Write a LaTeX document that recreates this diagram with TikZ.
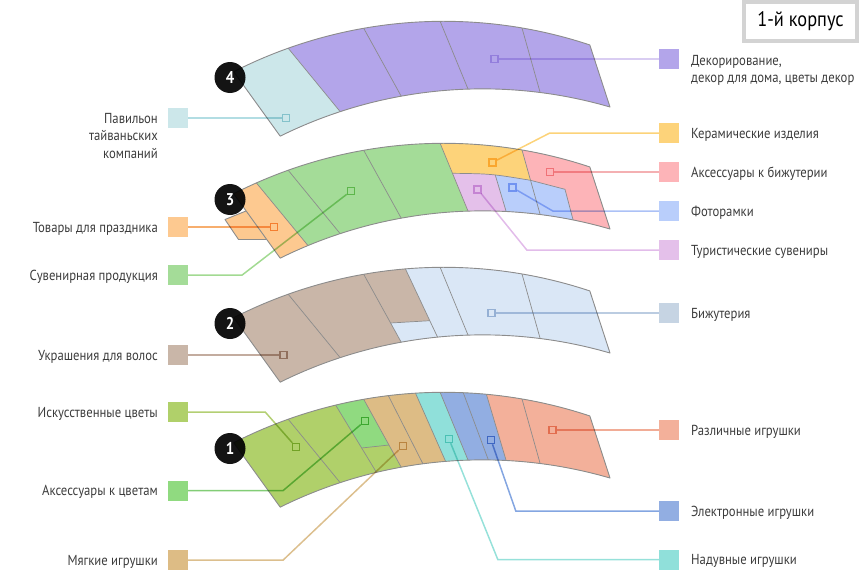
\documentclass[tikz,border=0pt]{standalone}
\usepackage{fontspec}
\setmainfont{PT Sans}[FakeStretch=0.875]
\usetikzlibrary{calc}

\definecolor{ink}{HTML}{3C3C3C}
\definecolor{edge}{HTML}{8C8C8C}
\definecolor{frame}{HTML}{D3D3D3}
% fills
\definecolor{cPav}{HTML}{CCE7EA}
\definecolor{cDec}{HTML}{B3A5EA}
\definecolor{cCer}{HTML}{FDD37A}
\definecolor{cAcc}{HTML}{FDB4B8}
\definecolor{cFoto}{HTML}{B9CEFB}
\definecolor{cTur}{HTML}{E4C0EA}
\definecolor{cHol}{HTML}{FDC990}
\definecolor{cSuv}{HTML}{A4DC98}
\definecolor{cHair}{HTML}{C9B6A8}
\definecolor{cBij}{HTML}{DAE7F6}
\definecolor{cBijKey}{HTML}{C6D4E3}
\definecolor{cArt}{HTML}{B0D06A}
\definecolor{cFlacc}{HTML}{90DA80}
\definecolor{cSoft}{HTML}{DDBC85}
\definecolor{cInf}{HTML}{90E0DA}
\definecolor{cEl}{HTML}{92AEE2}
\definecolor{cVar}{HTML}{F3B09A}
% leader lines
\definecolor{lPav}{HTML}{A5D7DE}
\definecolor{lDec}{HTML}{D2C4F0}
\definecolor{lCer}{HTML}{FCCB62}
\definecolor{lAcc}{HTML}{F2A2A5}
\definecolor{lFoto}{HTML}{9DB6F5}
\definecolor{lTur}{HTML}{DDB0E6}
\definecolor{lHol}{HTML}{F6A055}
\definecolor{lSuv}{HTML}{92D47F}
\definecolor{lHair}{HTML}{B89E8E}
\definecolor{lBij}{HTML}{AFC3DC}
\definecolor{lArt}{HTML}{A6C75A}
\definecolor{lFlacc}{HTML}{6CC45E}
\definecolor{lSoft}{HTML}{D6B47A}
\definecolor{lInf}{HTML}{84DCD3}
\definecolor{lEl}{HTML}{6E96DC}
\definecolor{lVar}{HTML}{EE9E84}

\tikzset{
  band/.style={draw=edge, line width=0.9pt, line join=round},
  split/.style={draw=edge, line width=0.7pt},
  legkey/.style={fill=#1, minimum size=20pt, inner sep=0pt},
  lead/.style={draw=#1, line width=1.5pt, opacity=0.85, blend mode=multiply},
  spot/.style={draw=#1, line width=1.5pt, minimum size=7pt, inner sep=0pt, blend mode=multiply},
  num/.style={circle, fill=black, fill opacity=0.92, text opacity=1, text=white, minimum size=31pt, inner sep=0pt, font=\fontsize{17}{17}\selectfont\bfseries},
  txtL/.style={anchor=base east, align=right, inner sep=0pt, text=ink, font=\fontsize{14.5}{17.5}\selectfont},
  txtR/.style={anchor=base west, align=left, inner sep=0pt, text=ink, font=\fontsize{14.5}{17.5}\selectfont}
}

\newcommand{\bandpath}{(233.7,442.7) arc[start angle=-117, end angle=-71.6, radius=462.7] -- (610,478) arc[start angle=-73.8, end angle=-116.3, radius=456.8] -- cycle}
\newcommand{\segfill}[5]{\fill[#1] ($(#2)!-1!(#3)$) -- ($(#2)!2!(#3)$) -- ($(#4)!2!(#5)$) -- ($(#4)!-1!(#5)$) -- cycle;}
\newcommand{\divline}[2]{\draw[split] ($(#1)!-1!(#2)$) -- ($(#1)!2!(#2)$);}

\begin{document}
\begin{tikzpicture}[x=1pt, y=-1pt]
\useasboundingbox (0,0) rectangle (860,570);

% floor 4
\begin{scope}[shift={(0,-371)}]
  \begin{scope}
    \clip \bandpath;
    \fill[cDec] (200,380) rectangle (650,520);
    \segfill{cPav}{150,400}{170,500}{288,419}{338,480}
    \divline{288,419}{338,480}
    \divline{363,398}{400,465}
    \divline{440,392}{468,460}
    \divline{522,399}{540,463}
  \end{scope}
  \draw[band] \bandpath;
  \node[num] (n4) at (230,448.5) {4};
\end{scope}

% floor 3
\begin{scope}[shift={(0,-249)}]
  \fill[cHol] (246,460) -- (225,468.5) -- (238.5,488.5) -- (266.5,488.5) -- cycle;
  \draw[band] (246,460) -- (225,468.5) -- (238.5,488.5) -- (266.5,488.5);
  \begin{scope}
    \clip \bandpath;
    \fill[cSuv] (200,380) rectangle (650,520);
    \segfill{cHol}{150,400}{170,500}{256.7,432.3}{306.7,493}
    \segfill{cCer}{440,392}{468,460}{522,399}{540,463}
    \segfill{cAcc}{522,399}{540,463}{640,400}{660,470}
    \begin{scope}
      \clip (482,494) -- (452.5,422.3) .. controls (491,422.8) .. (530.5,429.3) -- (565,438.3) -- (576,480) -- cycle;
      \fill[cTur] (400,380) rectangle (650,520);
      \segfill{cFoto}{486,393}{506,460}{640,400}{660,470}
      \divline{486,393}{506,460}
    \end{scope}
    \divline{256.7,432.3}{306.7,493}
    \divline{288,419}{338,480}
    \divline{363,398}{400,465}
    \divline{440,392}{468,460}
    \divline{522,399}{540,463}
    \draw[split] (452.5,422.3) .. controls (491,422.8) .. (530.5,429.3) -- (565,438.3) -- (576,480);
  \end{scope}
  \draw[band] \bandpath;
  \node[num] (n3) at (230,448.5) {3};
\end{scope}

% floor 2
\begin{scope}[shift={(0,-125)}]
  \begin{scope}
    \clip \bandpath;
    \fill[cHair] (200,380) rectangle (650,520);
    \segfill{cBij}{405,393}{437,461}{640,400}{660,470}
    \fill[cBij] (390.6,448) -- (429.8,445.7) -- ($(405,393)!2!(437,461)$) -- ($(363,398)!2!(400,465)$) -- cycle;
    \divline{288,419}{338,480}
    \divline{363,398}{400,465}
    \divline{405,393}{437,461}
    \divline{440,392}{468,460}
    \divline{522,399}{540,463}
    \draw[split] (390.6,448) -- (429.8,445.7);
  \end{scope}
  \draw[band] \bandpath;
  \node[num] (n2) at (230,448.5) {2};
\end{scope}

% floor 1
\begin{scope}
  \begin{scope}
    \clip \bandpath;
    \fill[cArt] (200,380) rectangle (650,520);
    \fill[cFlacc] ($(335,404)!-1!(375,470)$) -- (361.7,448) -- (389,445) -- ($(363,398)!-1!(400,465)$) -- cycle;
    \segfill{cSoft}{363,398}{400,465}{415,392}{445,460}
    \segfill{cInf}{415,392}{445,460}{440,392}{468,460}
    \segfill{cEl}{440,392}{468,460}{486,393}{506,460}
    \segfill{cVar}{486,393}{506,460}{640,400}{660,470}
    \divline{288,419}{338,480}
    \divline{335,404}{375,470}
    \divline{363,398}{400,465}
    \divline{388,395}{422,462}
    \divline{415,392}{445,460}
    \divline{440,392}{468,460}
    \divline{463,392}{488,459}
    \divline{486,393}{506,460}
    \divline{522,399}{540,463}
    \draw[split] (361.7,448) -- (389,445);
  \end{scope}
  \draw[band] \bandpath;
  \node[num] (n1) at (230,448.5) {1};
\end{scope}

% legend, left
\node[legkey=cPav] (k-pav) at (178,118) {};
\node[txtL] (t-pav) at (158,158) {Павильон\\тайваньских\\компаний};
\node[legkey=cHol] (k-hol) at (178,227) {};
\node[txtL] (t-hol) at (158,232) {Товары для праздника};
\node[legkey=cSuv] (k-suv) at (178,275) {};
\node[txtL] (t-suv) at (158,280) {Сувенирная продукция};
\node[legkey=cHair] (k-hair) at (178,355) {};
\node[txtL] (t-hair) at (158,360) {Украшения для волос};
\node[legkey=cArt] (k-art) at (178,412) {};
\node[txtL] (t-art) at (158,417) {Искусственные цветы};
\node[legkey=cFlacc] (k-flacc) at (178,490.5) {};
\node[txtL] (t-flacc) at (158,495.5) {Аксессуары к цветам};
\node[legkey=cSoft] (k-soft) at (178,560) {};
\node[txtL] (t-soft) at (158,565) {Мягкие игрушки};

% legend, right
\node[legkey=cDec] (k-dec) at (669,59) {};
\node[txtR] (t-dec) at (691,82.5) {Декорирование,\\декор для дома, цветы декор};
\node[legkey=cCer] (k-cer) at (669,133) {};
\node[txtR] (t-cer) at (691,138) {Керамические изделия};
\node[legkey=cAcc] (k-acc) at (669,172) {};
\node[txtR] (t-acc) at (691,177) {Аксессуары к бижутерии};
\node[legkey=cFoto] (k-foto) at (669,211) {};
\node[txtR] (t-foto) at (691,216) {Фоторамки};
\node[legkey=cTur] (k-tur) at (669,250) {};
\node[txtR] (t-tur) at (691,255) {Туристические сувениры};
\node[legkey=cBijKey] (k-bij) at (669,313) {};
\node[txtR] (t-bij) at (691,318) {Бижутерия};
\node[legkey=cVar] (k-var) at (669,430) {};
\node[txtR] (t-var) at (691,435) {Различные игрушки};
\node[legkey=cEl] (k-el) at (669,511) {};
\node[txtR] (t-el) at (691,516) {Электронные игрушки};
\node[legkey=cInf] (k-inf) at (669,559.5) {};
\node[txtR] (t-inf) at (691,564.5) {Надувные игрушки};

% markers
\node[spot=lPav] (m-pav) at (286,118) {};
\node[spot=lDec] (m-dec) at (494.3,59) {};
\node[spot=lCer] (m-cer) at (492.7,162.3) {};
\node[spot=lAcc] (m-acc) at (550,172) {};
\node[spot=lFoto] (m-foto) at (512.7,187.7) {};
\node[spot=lTur] (m-tur) at (477.7,189.3) {};
\node[spot=lHol] (m-hol) at (274,227) {};
\node[spot=lSuv] (m-suv) at (351,191) {};
\node[spot=lHair] (m-hair) at (283.3,355) {};
\node[spot=lBij] (m-bij) at (491.7,313) {};
\node[spot=lArt] (m-art) at (296,447) {};
\node[spot=lFlacc] (m-flacc) at (365,421) {};
\node[spot=lSoft] (m-soft) at (403,446) {};
\node[spot=lVar] (m-var) at (552.7,430) {};
\node[spot=lEl] (m-el) at (491,440) {};
\node[spot=lInf] (m-inf) at (449,439) {};

% leaders
\draw[lead=lPav] (k-pav.east) -- (m-pav);
\draw[lead=lDec] (k-dec.west) -- (m-dec);
\draw[lead=lCer] (k-cer.west) -- ++(-109,0) -- (m-cer);
\draw[lead=lAcc] (k-acc.west) -- (m-acc);
\draw[lead=lFoto] (k-foto.west) -- ++(-106,0) -- (m-foto);
\draw[lead=lTur] (k-tur.west) -- ++(-132,0) -- (m-tur);
\draw[lead=lHol] (k-hol.east) -- (m-hol);
\draw[lead=lSuv] (k-suv.east) -- ++(54,0) -- (m-suv);
\draw[lead=lHair] (k-hair.east) -- (m-hair);
\draw[lead=lBij] (k-bij.west) -- (m-bij);
\draw[lead=lArt] (k-art.east) -- ++(77,0) -- (m-art);
\draw[lead=lFlacc] (k-flacc.east) -- ++(95,0) -- (m-flacc);
\draw[lead=lSoft] (k-soft.east) -- ++(95,0) -- (m-soft);
\draw[lead=lVar] (k-var.west) -- (m-var);
\draw[lead=lEl] (k-el.west) -- ++(-143,0) -- (m-el);
\draw[lead=lInf] (k-inf.west) -- ++(-161,0) -- (m-inf);

\node[draw=frame, line width=4.5pt, fill=white, minimum width=113pt, minimum height=39pt, inner sep=0pt, font=\fontsize{21}{21}\selectfont] (title) at (800.5,21.5) {1-й корпус};
\end{tikzpicture}
\end{document}
